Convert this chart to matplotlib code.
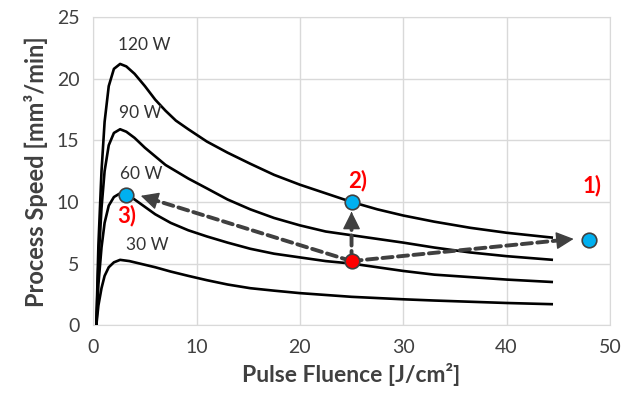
import matplotlib
matplotlib.use("Agg")
import matplotlib.pyplot as plt

plt.rcParams['font.family'] = ['Lato', 'DejaVu Sans']

# curves: fluence [J/cm2] -> speed [mm3/min]
fl_120 = [0.3, 0.5, 0.8, 1.1, 1.5, 2.0, 2.6, 3.2, 4.0, 5.0, 6.0, 7.0, 8.0, 9.2, 11, 13, 15.2, 17.5, 20, 22.5, 25, 27.5, 30, 33, 36.5, 40, 44.5]
sp_120 = [0, 6.5, 12.5, 16.5, 19.4, 20.8, 21.2, 21.0, 20.4, 19.4, 18.3, 17.4, 16.6, 15.9, 14.9, 14.0, 13.1, 12.2, 11.4, 10.7, 10.0, 9.4, 8.9, 8.4, 7.9, 7.5, 7.1]
fl_90 = [0.3, 0.5, 0.8, 1.1, 1.5, 2.0, 2.6, 3.2, 4.0, 5.0, 6.0, 7.0, 8.0, 9.2, 11, 13, 15.2, 17.5, 20, 22.5, 25, 27.5, 30, 33, 36.5, 40, 44.5]
sp_90 = [0, 5, 9.5, 12.5, 14.6, 15.6, 15.9, 15.7, 15.2, 14.4, 13.7, 13.0, 12.5, 11.9, 11.1, 10.2, 9.4, 8.7, 8.1, 7.6, 7.3, 7.0, 6.7, 6.3, 5.9, 5.6, 5.3]
fl_60 = [0.3, 0.5, 0.8, 1.1, 1.5, 2.0, 2.6, 3.2, 4.0, 5.0, 6.0, 7.5, 9.2, 11, 13, 15.2, 17.5, 20, 22.5, 25, 27.5, 30, 33, 36.5, 40, 44.5]
sp_60 = [0, 3.3, 6.3, 8.3, 9.7, 10.4, 10.7, 10.6, 10.2, 9.6, 9.0, 8.3, 7.7, 7.2, 6.7, 6.2, 5.8, 5.5, 5.2, 5.0, 4.7, 4.4, 4.1, 3.9, 3.7, 3.5]
fl_30 = [0.3, 0.5, 0.8, 1.1, 1.5, 2.0, 2.6, 3.5, 4.5, 6.0, 7.5, 9.2, 11, 13, 15.2, 17.5, 20, 22.5, 25, 27.5, 30, 33, 36.5, 40, 44.5]
sp_30 = [0, 1.6, 3.0, 4.0, 4.7, 5.1, 5.3, 5.2, 5.0, 4.7, 4.35, 4.0, 3.65, 3.3, 3.0, 2.8, 2.6, 2.45, 2.3, 2.2, 2.1, 2.0, 1.9, 1.8, 1.7]

curve_labels = ["120 W", "90 W", "60 W", "30 W"]
label_pos = [(4.9, 22.7), (4.6, 17.2), (4.6, 12.3), (5.2, 6.5)]

start_pt = (25, 5.2)
target_pts = [(48, 6.9), (25, 10.0), (3.2, 10.6)]
target_names = ["1)", "2)", "3)"]
name_pos = [(48.3, 11.3), (25.6, 11.7), (3.2, 8.9)]
arrow_ends = [(46.5, 7.0), (25, 9.2), (4.6, 10.5)]

grey = "#404040"

fig = plt.figure(figsize=(6.3, 3.98), dpi=100)
ax = fig.add_axes([0.148, 0.183, 0.82, 0.774])

for fl, sp in [(fl_120, sp_120), (fl_90, sp_90), (fl_60, sp_60), (fl_30, sp_30)]:
    ax.plot(fl, sp, color="black", lw=1.9, solid_capstyle="butt", solid_joinstyle="round", zorder=3)

for txt, (x, y) in zip(curve_labels, label_pos):
    ax.text(x, y, txt, ha="center", va="center", fontsize=12.5, color="#333333", zorder=4)

# dashed shaft, then a solid head on top
for (x, y) in arrow_ends:
    ax.annotate("", xy=(x, y), xytext=start_pt,
                arrowprops=dict(arrowstyle="-", linestyle=(0, (2.6, 1.4)), lw=2.8,
                                color=grey, shrinkA=0, shrinkB=8),
                zorder=5)
    back = (x - 0.05 * (x - start_pt[0]), y - 0.05 * (y - start_pt[1]))
    ax.annotate("", xy=(x, y), xytext=back,
                arrowprops=dict(arrowstyle="-|>,head_length=1.1,head_width=0.55",
                                lw=1, color=grey, shrinkA=0, shrinkB=0),
                zorder=5)

ax.plot(*start_pt, "o", ms=10.5, mfc="#ff0000", mec=grey, mew=1.2, zorder=6)
for (x, y) in target_pts:
    ax.plot(x, y, "o", ms=10.5, mfc="#00b0f0", mec=grey, mew=1.2, zorder=6)
for txt, (x, y) in zip(target_names, name_pos):
    ax.text(x, y, txt, ha="center", va="center", fontsize=16, fontweight="bold",
            color="#ff0000", zorder=6)

ax.set_xlim(0, 50)
ax.set_ylim(0, 25)
ax.set_xticks(range(0, 51, 10))
ax.set_yticks(range(0, 26, 5))
ax.grid(True, color="#d9d9d9", lw=1)
ax.set_axisbelow(True)
for s in ax.spines.values():
    s.set_color("#d9d9d9")
ax.tick_params(length=0, labelsize=14, labelcolor=grey, pad=10)

ax.set_xlabel("Pulse Fluence [J/cm²]", fontsize=16.5, fontweight="bold", color=grey, labelpad=5)
ax.set_ylabel("Process Speed [mm³/min]", fontsize=17, fontweight="bold", color=grey, labelpad=6)

fig.savefig("out.png", dpi=100)
